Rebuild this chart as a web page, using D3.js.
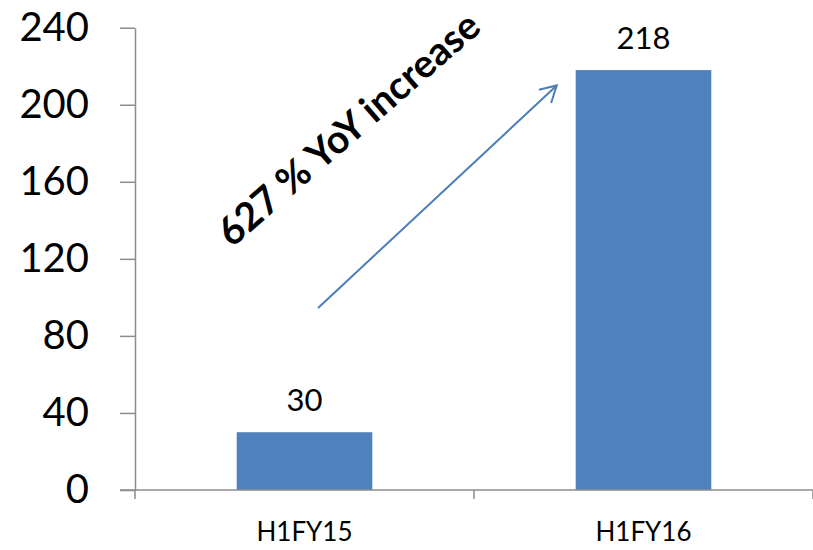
<!DOCTYPE html>
<html>
<head>
<meta charset="utf-8">
<script src="https://cdn.jsdelivr.net/npm/d3@7"></script>
<style>
  html, body { margin: 0; padding: 0; background: #fff; }
  svg { display: block; font-family: Lato, "Open Sans", sans-serif; }
</style>
</head>
<body>
<svg id="chart" width="813" height="550"></svg>
<script>
// Half-year totals
const categories = ["H1FY15", "H1FY16"];
const values = [30, 218];
const yTicks = [0, 40, 80, 120, 160, 200, 240];
const growthLabel = "627 % YoY increase";

const W = 813, H = 550;
const margin = { left: 135, right: 0, top: 27.7, bottom: 60 };

const svg = d3.select("#chart");

const x = d3.scaleBand()
  .domain(categories)
  .range([margin.left, W - margin.right])
  .paddingInner(0.6)
  .paddingOuter(0.3);

const y = d3.scaleLinear()
  .domain([0, 240])
  .range([H - margin.bottom, margin.top]);

// plot-relative helper for the annotation (0 = left edge, 1 = right edge)
const px = d3.scaleLinear().domain([0, 1]).range(x.range());

const axisColor = "#8c8c8c";

// Bars
svg.append("g").selectAll("rect")
  .data(values)
  .join("rect")
  .attr("x", (d, i) => x(categories[i]))
  .attr("width", x.bandwidth())
  .attr("y", d => y(d))
  .attr("height", d => y(0) - y(d))
  .attr("fill", "#4f81bd");

// Value labels
svg.append("g").selectAll("text")
  .data(values)
  .join("text")
  .attr("x", (d, i) => x(categories[i]) + x.bandwidth() / 2)
  .attr("y", d => y(d) - 21)
  .attr("text-anchor", "middle")
  .attr("font-size", 31)
  .attr("fill", "#000")
  .text(d => d);

// Y axis
const yAxis = svg.append("g")
  .attr("transform", `translate(${margin.left},0)`)
  .call(d3.axisLeft(y).tickValues(yTicks).tickSize(15).tickSizeOuter(0).tickPadding(31));
yAxis.select(".domain").attr("stroke", axisColor).attr("stroke-width", 1.5);
yAxis.selectAll(".tick line").attr("stroke", axisColor).attr("stroke-width", 1.5);
yAxis.selectAll(".tick text")
  .attr("font-size", 40)
  .attr("font-family", "Lato, sans-serif")
  .attr("fill", "#000");

// X axis: baseline with ticks at category boundaries
const xg = svg.append("g");
const step = x.step();
const bounds = categories.map(c => x(c) - step * x.paddingOuter());
bounds.push(x.range()[1]);
xg.append("line")
  .attr("x1", margin.left - 15).attr("x2", x.range()[1])
  .attr("y1", y(0)).attr("y2", y(0))
  .attr("stroke", axisColor).attr("stroke-width", 1.5);
xg.selectAll("line.tk")
  .data(bounds)
  .join("line")
  .attr("class", "tk")
  .attr("x1", d => d).attr("x2", d => d)
  .attr("y1", y(0)).attr("y2", y(0) + 9)
  .attr("stroke", axisColor).attr("stroke-width", 1.5);
xg.selectAll("text")
  .data(categories)
  .join("text")
  .attr("x", d => x(d) + x.bandwidth() / 2)
  .attr("y", y(0) + 51)
  .attr("text-anchor", "middle")
  .attr("font-size", 26)
  .attr("fill", "#000")
  .text(d => d);

// Growth arrow
const arrowColor = "#4a7ebb";
svg.append("defs").append("marker")
  .attr("id", "head")
  .attr("viewBox", "0 0 20 20")
  .attr("refX", 18).attr("refY", 10)
  .attr("markerWidth", 20).attr("markerHeight", 20)
  .attr("markerUnits", "userSpaceOnUse")
  .attr("orient", "auto")
  .append("path")
  .attr("d", "M2,1 L18,10 L2,19")
  .attr("fill", "none")
  .attr("stroke", arrowColor)
  .attr("stroke-width", 2);

svg.append("line")
  .attr("x1", px(0.27)).attr("y1", y(94.5))
  .attr("x2", px(0.622)).attr("y2", y(210))
  .attr("stroke", arrowColor)
  .attr("stroke-width", 2)
  .attr("marker-end", "url(#head)");

// Growth label
const tx = px(0.143), ty = y(125.5);
svg.append("text")
  .attr("transform", `translate(${tx},${ty}) rotate(-41)`)
  .attr("font-size", 39)
  .attr("font-weight", "bold")
  .attr("fill", "#000")
  .text(growthLabel);
</script>
</body>
</html>
